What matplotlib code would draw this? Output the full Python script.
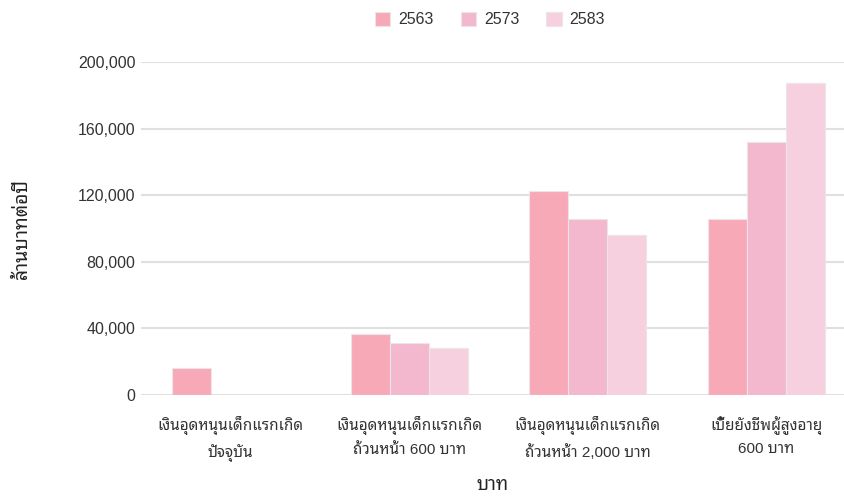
import matplotlib
matplotlib.use('Agg')
import numpy as np
import matplotlib.pyplot as plt
from matplotlib.ticker import FuncFormatter

plt.rcParams['font.family'] = ['Liberation Sans', 'Noto Sans Thai Looped', 'DejaVu Sans']

categories = ['เงินอุดหนุนเด็กแรกเกิด\nปัจจุบัน',
              'เงินอุดหนุนเด็กแรกเกิด\nถ้วนหน้า 600 บาท',
              'เงินอุดหนุนเด็กแรกเกิด\nถ้วนหน้า 2,000 บาท',
              'เบี้ยยังชีพผู้สูงอายุ\n600 บาท']
years = ['2563', '2573', '2583']
v2563 = [16000, 36500, 122500, 106000]
v2573 = [0, 31500, 105500, 152000]
v2583 = [0, 28500, 96000, 187500]
series = [v2563, v2573, v2583]
colors = ['#f8a9b8', '#f3b8cd', '#f7d0e0']

fig = plt.figure(figsize=(8.45, 4.97), dpi=100)
ax = fig.add_axes([141 / 845, 102 / 497, 715 / 845, 333 / 497])

x = np.arange(len(categories))
w = 0.218
for i, (vals, yr) in enumerate(zip(series, years)):
    ax.bar(x + (i - 1) * w, vals, w, color=colors[i], edgecolor='#ece4e7',
           linewidth=0.8, label=yr, zorder=3)

ax.set_xlim(-0.5, 3.5)
ax.set_ylim(0, 200000)
ax.set_yticks(np.arange(0, 200001, 40000))
ax.yaxis.set_major_formatter(FuncFormatter(lambda v, p: f'{int(v):,}'))
ax.grid(axis='y', color='#e0e0e0', linewidth=1.5, zorder=0)
for s in ax.spines.values():
    s.set_visible(False)
ax.tick_params(axis='both', length=0, colors='#333333')
ax.tick_params(axis='y', pad=4, labelsize=11.5)
ax.tick_params(axis='x', pad=15)
ax.set_xticks(x)
ax.set_xticklabels(categories, fontsize=11, linespacing=1.7)

ax.set_ylabel('ล้านบาทต่อปี', fontsize=14, fontweight='bold', color='#222222', labelpad=34)
# x label placed by hand so the tall Thai line box is not cut at the bottom
fig.text(493 / 845, 12 / 497, 'บาท', fontsize=13.5, fontweight='bold',
         color='#222222', ha='center', va='center')

fig.legend(loc='upper center', bbox_to_anchor=(0.58, 1.005), ncol=3, frameon=False,
           handlelength=0.95, handleheight=0.95, handletextpad=0.5, columnspacing=1.7,
           fontsize=11.5, labelcolor='#333333')

fig.savefig('out.png')
